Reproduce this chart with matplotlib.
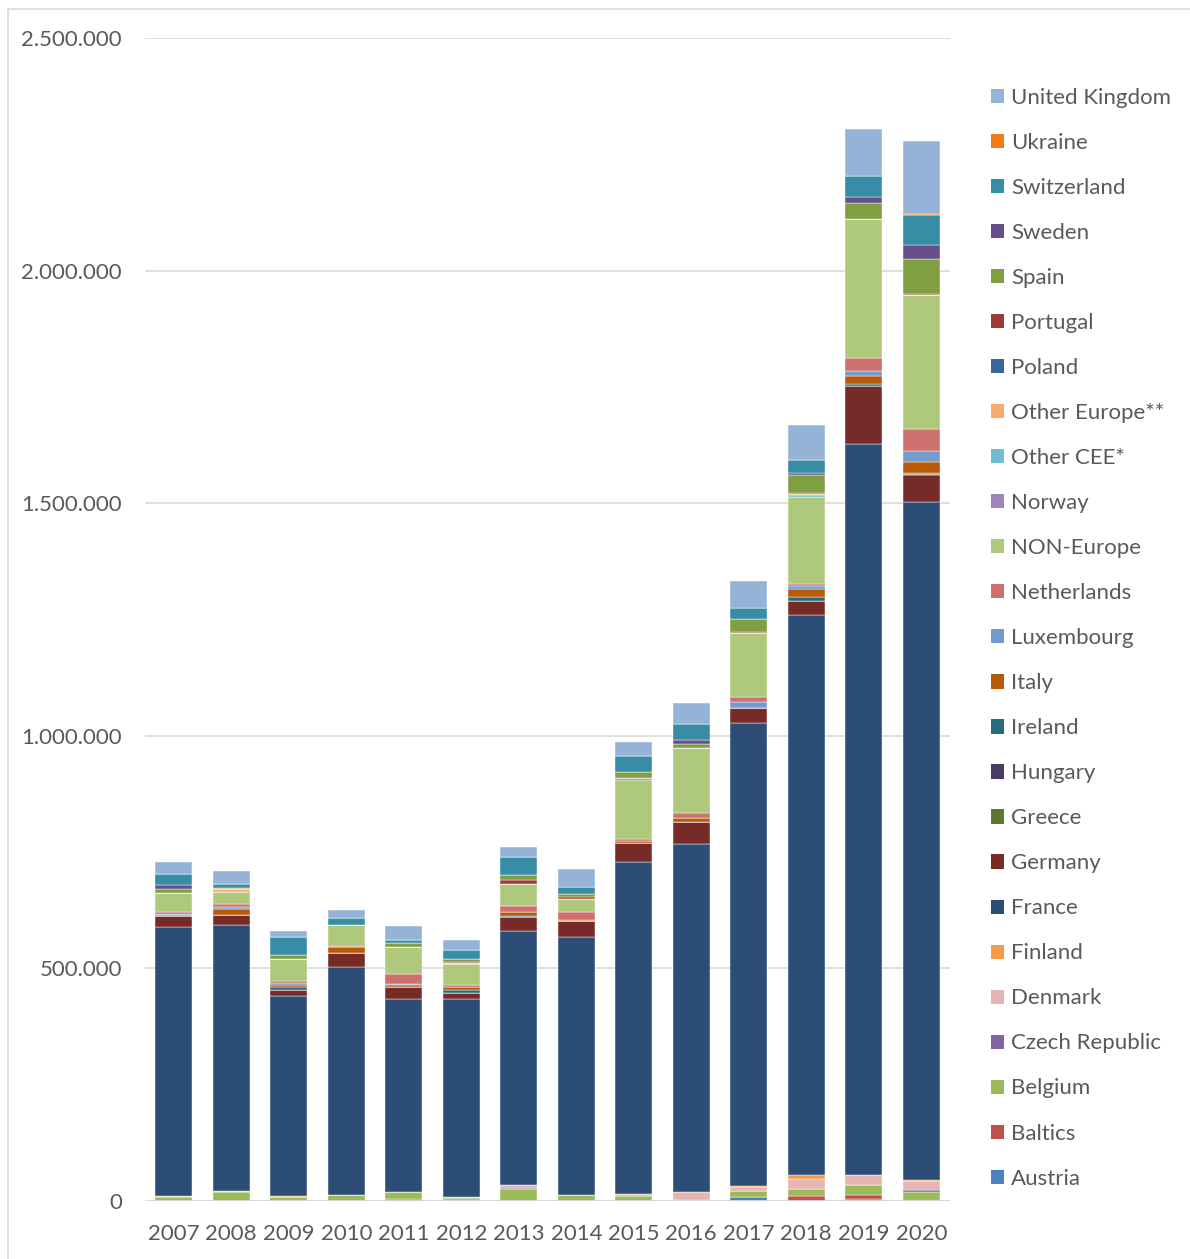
# Stacked bars by country, 2007-2020
import matplotlib.pyplot as plt
from matplotlib.patches import Rectangle, Patch
from matplotlib.ticker import FuncFormatter

plt.rcParams['font.family'] = ['Lato', 'DejaVu Sans']

years = ['2007', '2008', '2009', '2010', '2011', '2012', '2013',
         '2014', '2015', '2016', '2017', '2018', '2019', '2020']

# values in thousands
austria = [0, 0, 0, 0, 4, 3, 0, 0, 0, 3, 9, 0, 4, 0]
baltics = [0, 0, 0, 0, 0, 0, 0, 0, 0, 0, 0, 10, 9, 0]
belgium = [9, 19, 9, 13, 15, 4, 25, 12, 11, 0, 13, 16, 21, 19]
czech = [0, 0, 0, 0, 0, 0, 4, 0, 0, 0, 0, 0, 0, 4]
denmark = [2, 2, 0, 0, 0, 2, 6, 0, 5, 16, 8, 21, 21, 21]
finland = [0, 0, 2, 0, 0, 0, 0, 0, 0, 0, 2, 9, 0, 2]
france = [578, 573, 429, 490, 415, 426, 545, 555, 713, 748, 995, 1203, 1573, 1457]
germany = [24, 20, 14, 30, 27, 13, 30, 34, 41, 47, 32, 31, 125, 57]
greece = [0, 0, 0, 0, 0, 0, 0, 0, 0, 0, 0, 0, 0, 2]
hungary = [0, 0, 0, 0, 0, 0, 0, 0, 0, 0, 0, 0, 0, 0]
ireland = [0, 0, 6, 0, 0, 5, 3, 0, 0, 0, 0, 8, 4, 3]
italy = [2, 13, 4, 12, 3, 7, 9, 4, 4, 9, 0, 18, 16, 24]
luxembourg = [3, 5, 4, 0, 2, 0, 0, 0, 0, 0, 14, 7, 12, 23]
netherlands = [4, 7, 5, 4, 21, 4, 12, 16, 4, 10, 11, 4, 27, 48]
non_europe = [41, 26, 47, 44, 58, 45, 47, 29, 128, 140, 136, 187, 299, 287]
norway = [0, 0, 0, 0, 0, 0, 0, 0, 3, 0, 0, 0, 0, 0]
other_cee = [0, 0, 0, 0, 0, 0, 0, 0, 0, 0, 0, 3, 0, 0]
other_europe = [0, 6, 0, 0, 0, 2, 0, 0, 0, 0, 0, 3, 0, 0]
poland = [0, 0, 0, 0, 0, 0, 0, 0, 0, 0, 0, 0, 0, 0]
portugal = [0, 0, 0, 0, 0, 2, 10, 4, 0, 0, 4, 3, 0, 3]
spain = [7, 2, 8, 0, 9, 7, 9, 7, 14, 9, 27, 38, 34, 75]
sweden = [9, 0, 0, 0, 0, 0, 0, 0, 0, 10, 0, 3, 14, 29]
switzerland = [23, 9, 40, 16, 6, 20, 40, 14, 34, 33, 23, 28, 44, 65]
ukraine = [0, 0, 0, 0, 0, 0, 0, 0, 0, 0, 0, 0, 0, 2]
united_kingdom = [26, 28, 12, 16, 32, 21, 21, 38, 29, 46, 59, 77, 102, 158]

# bottom to top
series = [
    ('Austria', austria, '#4F81BD'),
    ('Baltics', baltics, '#C0504D'),
    ('Belgium', belgium, '#9BBB59'),
    ('Czech Republic', czech, '#8064A2'),
    ('Denmark', denmark, '#E6B4B3'),
    ('Finland', finland, '#F79A4A'),
    ('France', france, '#2C4E76'),
    ('Germany', germany, '#772B29'),
    ('Greece', greece, '#5F7530'),
    ('Hungary', hungary, '#4A3B62'),
    ('Ireland', ireland, '#276C7C'),
    ('Italy', italy, '#B85B08'),
    ('Luxembourg', luxembourg, '#739CCE'),
    ('Netherlands', netherlands, '#CE706E'),
    ('NON-Europe', non_europe, '#AEC97B'),
    ('Norway', norway, '#9C85B8'),
    ('Other CEE*', other_cee, '#6EBDD0'),
    ('Other Europe**', other_europe, '#F8AB6C'),
    ('Poland', poland, '#3A6699'),
    ('Portugal', portugal, '#A03A38'),
    ('Spain', spain, '#7F9F42'),
    ('Sweden', sweden, '#664F8A'),
    ('Switzerland', switzerland, '#378DA5'),
    ('Ukraine', ukraine, '#F47B14'),
    ('United Kingdom', united_kingdom, '#95B3D7'),
]

text_col = '#595959'

fig = plt.figure(figsize=(11.9, 12.59), dpi=100)
ax = fig.add_axes([145 / 1190, 1 - 1201 / 1259, (950 - 145) / 1190, (1201 - 38) / 1259])

# outer frame of the chart area
fig.patches.append(Rectangle((8 / 1190, -0.01), 1.1, 1 - 9 / 1259 + 0.01,
                             transform=fig.transFigure, fill=False,
                             edgecolor='#D9D9D9', linewidth=1.2))

x = list(range(len(years)))
bottom = [0] * len(years)
handles = []
for name, vals, col in series:
    v = [a * 1000 for a in vals]
    ax.bar(x, v, width=0.645, bottom=bottom, color=col,
           edgecolor='white', linewidth=0.3, zorder=3)
    bottom = [b + c for b, c in zip(bottom, v)]
    handles.append(Patch(facecolor=col, edgecolor='none', label=name))

ax.set_xlim(-0.5, 13.5)
ax.set_ylim(0, 2500000)
ax.set_yticks(range(0, 2500001, 500000))
ax.yaxis.set_major_formatter(FuncFormatter(lambda v, p: f'{int(v):,}'.replace(',', '.')))
ax.set_xticks(x)
ax.set_xticklabels(years)
ax.grid(axis='y', color='#D9D9D9', linewidth=1.2, zorder=0)
ax.axhline(0, color='#D9D9D9', linewidth=1.2, zorder=4)
for s in ax.spines.values():
    s.set_visible(False)
ax.tick_params(axis='both', length=0, labelsize=16, labelcolor=text_col)
ax.tick_params(axis='y', pad=16.5)
ax.tick_params(axis='x', pad=16.5)

leg = fig.legend(handles[::-1], [h.get_label() for h in handles[::-1]],
                 loc='upper left', bbox_to_anchor=(991 / 1190, 1 - 88 / 1259),
                 frameon=False, fontsize=16, labelcolor=text_col,
                 handlelength=0.6, handleheight=0.6, handletextpad=0.3,
                 labelspacing=1.126, borderaxespad=0, borderpad=0)

fig.savefig('out.png', dpi=100)
